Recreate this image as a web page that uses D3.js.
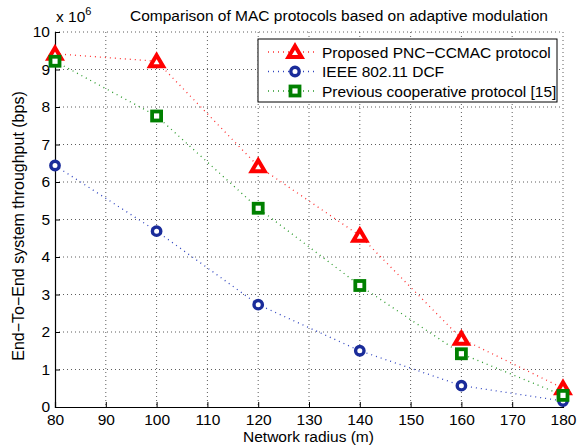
<!DOCTYPE html>
<html>
<head>
  <meta charset="utf8">
  <script src="https://d3js.org/d3.v7.min.js"></script>
  <style>
    body { margin: 0; background: #fff; }
    text { font-family: "Liberation Sans", Arial, sans-serif; fill: #000; }
  </style>
</head>
<body>
  <svg id="chart" width="578" height="445"></svg>
  <script>
    var radius = [80, 100, 120, 140, 160, 180];
    var proposed = [9.42, 9.22, 6.42, 4.57, 1.82, 0.5];
    var ieee = [6.44, 4.69, 2.73, 1.5, 0.57, 0.16];
    var previous = [9.22, 7.76, 5.3, 3.24, 1.42, 0.31];
    var xTicks = [80, 90, 100, 110, 120, 130, 140, 150, 160, 170, 180];
    var yTicks = [0, 1, 2, 3, 4, 5, 6, 7, 8, 9, 10];
    var seriesNames = ['Proposed PNC\u2212CCMAC protocol', 'IEEE 802.11 DCF', 'Previous cooperative protocol [15]'];

    var chart = d3.select('#chart');
    var margin = { top: 32, right: 15, bottom: 38, left: 55 };
    var width = 563 - margin.left;
    var height = 407 - margin.top;
    var fs = '15.5px';

    var x = d3.scaleLinear().domain([80, 180]).range([0, width]);
    var y = d3.scaleLinear().domain([0, 10]).range([height, 0]);

    var g = chart.append('g')
      .attr('transform', 'translate(' + margin.left + ',' + margin.top + ')');

    // grid
    g.selectAll('.vgrid').data(xTicks.slice(1)).enter().append('line')
      .attr('x1', (d) => x(d)).attr('x2', (d) => x(d))
      .attr('y1', 0).attr('y2', height)
      .attr('stroke', '#333').attr('stroke-width', 0.8)
      .attr('stroke-dasharray', '1,3');
    g.selectAll('.hgrid').data(yTicks.slice(1)).enter().append('line')
      .attr('x1', 0).attr('x2', width)
      .attr('y1', (d) => y(d)).attr('y2', (d) => y(d))
      .attr('stroke', '#333').attr('stroke-width', 0.8)
      .attr('stroke-dasharray', '1,3');

    // axes
    var xAxis = g.append('g')
      .attr('transform', 'translate(0,' + height + ')')
      .call(d3.axisBottom(x).tickValues(xTicks).tickSize(-5).tickPadding(9.5));
    var yAxis = g.append('g')
      .call(d3.axisLeft(y).tickValues(yTicks).tickSize(-5).tickPadding(5));
    [xAxis, yAxis].forEach((a) => {
      a.selectAll('path').attr('stroke', '#000').attr('stroke-width', 1.2);
      a.selectAll('line').attr('stroke', '#000');
      a.selectAll('text').style('font-size', fs)
        .style('font-family', '"Liberation Sans", Arial, sans-serif');
    });
    xAxis.selectAll('text').attr('dy', '0.55em');

    // series
    var series = [
      { name: seriesNames[0], values: proposed, color: '#ff0000', line: '#ff3030', marker: 'triangle' },
      { name: seriesNames[1], values: ieee, color: '#1a2c9a', line: '#3045c0', marker: 'circle' },
      { name: seriesNames[2], values: previous, color: '#008000', line: '#2a9a2a', marker: 'square' }
    ];

    var line = d3.line().x((d, i) => x(radius[i])).y((d) => y(d));

    // thick-edged markers, the white centre stays small like in the original
    function drawMarker(sel, s) {
      if (s.marker === 'triangle') {
        sel.append('path').attr('d', 'M0,-6L6.5,5L-6.5,5Z')
          .attr('fill', '#fff').attr('stroke', s.color).attr('stroke-width', 4)
          .attr('stroke-linejoin', 'miter');
      } else if (s.marker === 'circle') {
        sel.append('circle').attr('r', 4.2)
          .attr('fill', '#fff').attr('stroke', s.color).attr('stroke-width', 3.4);
      } else {
        sel.append('rect').attr('x', -4.5).attr('y', -4.5).attr('width', 9).attr('height', 9)
          .attr('fill', '#fff').attr('stroke', s.color).attr('stroke-width', 3.8);
      }
    }

    series.forEach((s) => {
      g.append('path').datum(s.values)
        .attr('d', line).attr('fill', 'none')
        .attr('stroke', s.line).attr('stroke-width', 1.3)
        .attr('stroke-dasharray', '1,4');
    });
    series.forEach((s) => {
      s.values.forEach((v, i) => {
        var m = g.append('g').attr('transform', 'translate(' + x(radius[i]) + ',' + y(v) + ')');
        drawMarker(m, s);
      });
    });

    // legend
    var legend = chart.append('g').attr('transform', 'translate(258,39)');
    legend.append('rect').attr('width', 299).attr('height', 63)
      .attr('fill', '#fff').attr('stroke', '#000').attr('stroke-width', 1);
    series.forEach((s, i) => {
      var ly = 13 + i * 19.5;
      legend.append('line').attr('x1', 10).attr('x2', 60).attr('y1', ly).attr('y2', ly)
        .attr('stroke', s.line).attr('stroke-width', 1.3).attr('stroke-dasharray', '1,4');
      var m = legend.append('g').attr('transform', 'translate(37,' + ly + ')');
      drawMarker(m, s);
      legend.append('text').attr('x', 64).attr('y', ly + 5.5)
        .style('font-size', fs).text(s.name);
    });

    // titles
    var t = chart.append('text').attr('x', 56).attr('y', 22).style('font-size', fs);
    t.append('tspan').text('x 10');
    t.append('tspan').attr('dy', -7).style('font-size', '11px').text('6');
    chart.append('text').attr('x', 130).attr('y', 21)
      .style('font-size', fs).text('Comparison of MAC protocols based on adaptive modulation');
    chart.append('text').attr('x', 308.5).attr('y', 442).attr('text-anchor', 'middle')
      .style('font-size', fs).text('Network radius (m)');
    chart.append('text').attr('transform', 'translate(24,' + 226 + ') rotate(-90)')
      .attr('text-anchor', 'middle').style('font-size', '16px')
      .text('End\u2212To\u2212End system throughput (bps)');
  </script>
</body>
</html>
